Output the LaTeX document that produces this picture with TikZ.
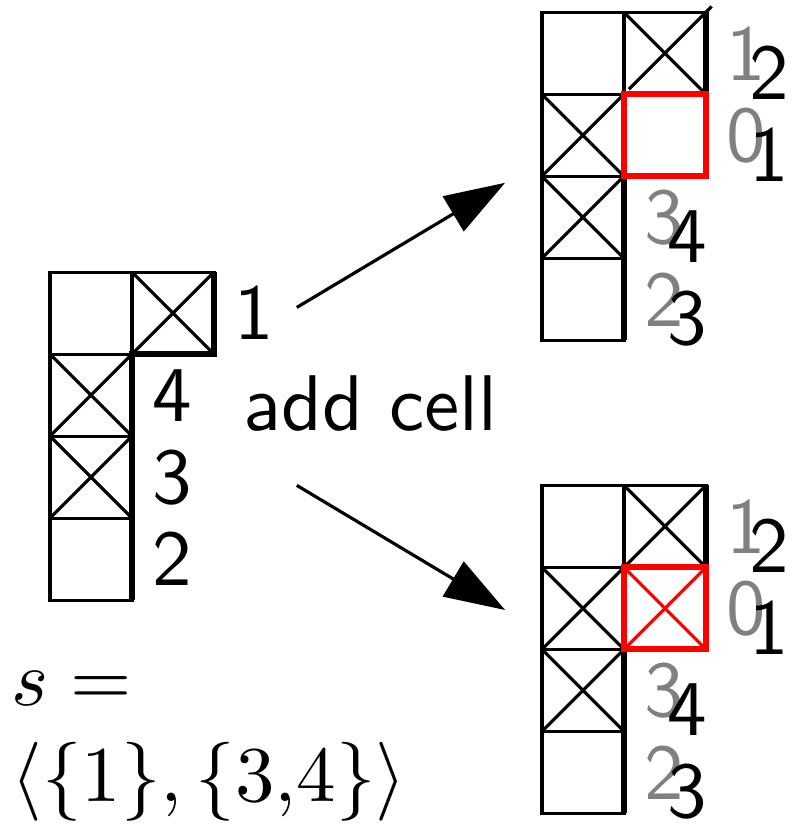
\documentclass[tikz,border=0pt]{standalone}
\usepackage{xcolor}
\usetikzlibrary{arrows.meta,positioning}
\definecolor{oldnum}{gray}{0.5}
\definecolor{newcell}{HTML}{FF0000}

% one crossed cell, lower left corner given
\newcommand{\xcell}[3][black]{%
  \draw[grid,draw=#1] (#2,#3) rectangle ++(1,1);
  \draw[grid,draw=#1] (#2,#3) -- ++(1,1) (#2,#3+1) -- ++(1,-1);}
% empty shape: one column of four cells and one cell on top right
\newcommand{\shapeframe}{%
  \foreach \cy in {0,...,3} \draw[grid] (0,\cy) rectangle ++(1,1);
  \draw[grid] (1,3) rectangle (2,4);}

\begin{document}
\begin{tikzpicture}[
    x=0.36496cm,y=0.36496cm,scale=2.74,
    every node/.append style={transform shape},
    grid/.style={line width=1.1pt},
    rim/.style={line width=2pt},
    redbox/.style={draw=newcell,line width=2.1pt},
    num/.style={font=\sffamily,inner sep=0pt},
    oldlabel/.style={num,text=oldnum},
    formula/.style={inner sep=0pt,anchor=base west},
    arr/.style={-{Triangle[length=21pt,width=14pt]},line width=1.1pt}
]
    \useasboundingbox (-0.61,-2.73) rectangle (9.06,7.32);

    % left shape
    \shapeframe
    \xcell{0}{1} \xcell{0}{2} \xcell{1}{3}
    \draw[rim] (2,4) -- (2,3) -- (1,3) -- (1,0);
    \node[num] (l1) at (2.49,3.5) {1};
    \node[num] (l4) at (1.49,2.5) {4};
    \node[num] (l3) at (1.49,1.5) {3};
    \node[num] (l2) at (1.49,0.5) {2};

    \node[formula] (slhs) at (-0.49,-1.29) {$s =$};
    \node[formula] (srhs) at (-0.49,-2.45) {$\langle\{1\},\{3{,}4\}\rangle$};

    % arrows
    \coordinate (upfrom) at (3.01,3.57);
    \coordinate (upto) at (5.55,5.09);
    \coordinate (downfrom) at (3.01,1.40);
    \coordinate (downto) at (5.55,-0.12);
    \draw[arr] (upfrom) -- (upto);
    \draw[arr] (downfrom) -- (downto);
    \node[num,anchor=base] (add) at (3.91,2.07) {add cell};

    % upper result
    \begin{scope}[shift={(6,3.17)}]
        \shapeframe
        \xcell{0}{1} \xcell{0}{2}
        \draw[grid] (1,4) -- (2,3) (1.06,3.06) -- (2.07,4.07);
        \draw[rim] (2,4) -- (2,3) (1,2) -- (1,0);
        \draw[redbox] (1,2) rectangle (2,3);
        \node[oldlabel] (ua1) at (2.49,3.5) {1};
        \node[oldlabel] (ua0) at (2.49,2.5) {0};
        \node[oldlabel] (ua3) at (1.49,1.5) {3};
        \node[oldlabel] (ua2) at (1.49,0.5) {2};
        \node[num] (ub2) at ([shift={(0.28,-0.24)}]ua1) {2};
        \node[num] (ub1) at ([shift={(0.28,-0.24)}]ua0) {1};
        \node[num] (ub4) at ([shift={(0.28,-0.24)}]ua3) {4};
        \node[num] (ub3) at ([shift={(0.28,-0.24)}]ua2) {3};
    \end{scope}

    % lower result
    \begin{scope}[shift={(6,-2.60)}]
        \shapeframe
        \xcell{0}{1} \xcell{0}{2} \xcell{1}{3}
        \draw[rim] (2,4) -- (2,3) (1,2) -- (1,0);
        \xcell[newcell]{1}{2}
        \draw[redbox] (1,2) rectangle (2,3);
        \node[oldlabel] (da1) at (2.49,3.5) {1};
        \node[oldlabel] (da0) at (2.49,2.5) {0};
        \node[oldlabel] (da3) at (1.49,1.5) {3};
        \node[oldlabel] (da2) at (1.49,0.5) {2};
        \node[num] (db2) at ([shift={(0.28,-0.24)}]da1) {2};
        \node[num] (db1) at ([shift={(0.28,-0.24)}]da0) {1};
        \node[num] (db4) at ([shift={(0.28,-0.24)}]da3) {4};
        \node[num] (db3) at ([shift={(0.28,-0.24)}]da2) {3};
    \end{scope}
\end{tikzpicture}
\end{document}
